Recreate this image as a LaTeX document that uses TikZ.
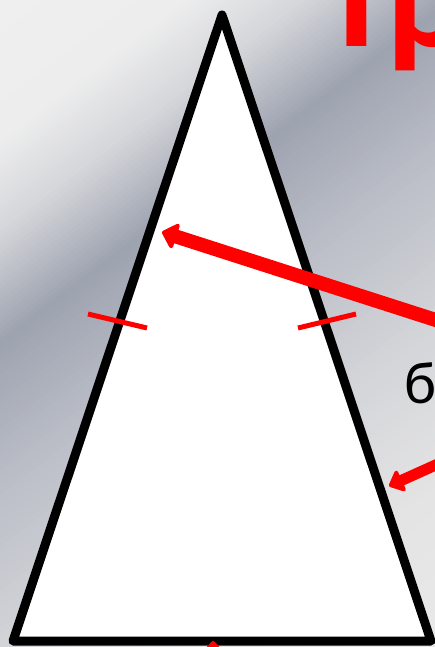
\documentclass[tikz,border=0pt]{standalone}
\usepackage{fontspec}
\setmainfont{Carlito}
\usetikzlibrary{arrows.meta}

% background grey tones, light -> dark band -> light
\definecolor{bgzero}{HTML}{EFEFEF}
\definecolor{bgone}{HTML}{EDEDED}
\definecolor{bgtwo}{HTML}{D6D7DB}
\definecolor{bgthree}{HTML}{9EA3B0}
\definecolor{bgfour}{HTML}{BABDC6}
\definecolor{bgfive}{HTML}{D4D5D9}
\definecolor{bgsix}{HTML}{E4E4E4}
\definecolor{bgseven}{HTML}{E9E9E9}

\begin{document}
\begin{tikzpicture}[x=1pt, y=-1pt,
      side/.style={draw=black, line width=9pt, line join=round, fill=white},
      tickmark/.style={draw=red, line width=5pt},
      pointer/.style={draw=red, line width=14pt, -{Triangle[length=16pt, width=30pt, round]}},
      thinpointer/.style={draw=red, line width=11pt, -{Triangle[length=15pt, width=26pt, round]}}]
  \path[use as bounding box] (0,0) rectangle (435,647);
  \clip (0,0) rectangle (435,647);

  % diagonal background bands
  \foreach \da/\db/\ca/\cb in {0/110/bgzero/bgone, 110/180/bgone/bgtwo, 180/271/bgtwo/bgthree,
      271/380/bgthree/bgfour, 380/520/bgfour/bgfive, 520/650/bgfive/bgsix, 650/790/bgsix/bgseven} {
    \foreach \i in {0,...,19} {
      \pgfmathsetmacro\dd{\da+\i*(\db-\da)/20}
      \pgfmathsetmacro\de{\dd+(\db-\da)/20+1}
      \pgfmathtruncatemacro\pc{5*\i}
      \fill[\cb!\pc!\ca] ({0.604*\dd+797},{0.797*\dd-604}) -- ({0.604*\dd-797},{0.797*\dd+604})
        -- ({0.604*\de-797},{0.797*\de+604}) -- ({0.604*\de+797},{0.797*\de-604}) -- cycle;
    }
  }

  % isosceles triangle
  \coordinate (apex) at (222,15);
  \coordinate (left) at (13,641);
  \coordinate (right) at (431,641);
  \draw[side] (apex) -- (left) -- (right) -- cycle;

  % equal sides marks
  \coordinate (tlA) at (88,314);
  \coordinate (tlB) at (147,328);
  \coordinate (trA) at (298,328);
  \coordinate (trB) at (356,314);
  \draw[tickmark] (tlA) -- (tlB);
  \draw[tickmark] (trA) -- (trB);

  % arrows
  \coordinate (ptrA) at (470,331);
  \coordinate (tipA) at (162,232);
  \coordinate (ptrB) at (480,445);
  \coordinate (tipB) at (389,486);
  \coordinate (ptrC) at (213,720);
  \coordinate (tipC) at (213,641);
  \draw[pointer] (ptrA) -- (tipA);
  \draw[thinpointer] (ptrB) -- (tipB);
  \draw[thinpointer] (ptrC) -- (tipC);

  % texts
  \node[anchor=base west, inner sep=0pt, text=red, font=\fontsize{155}{155}\selectfont\bfseries] (title) at (318,47) {Тр};
  \node[anchor=base west, inner sep=0pt, font=\fontsize{60}{60}\selectfont] (label) at (404,403) {б};
\end{tikzpicture}
\end{document}
